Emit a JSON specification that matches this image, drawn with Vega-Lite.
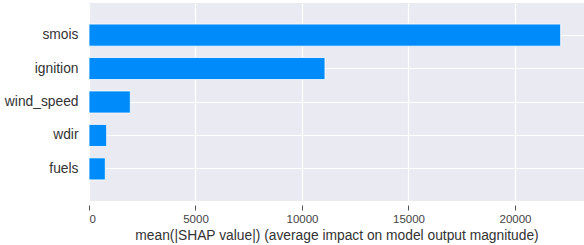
{
  "$schema": "https://vega.github.io/schema/vega-lite/v6.json",
  "width": 495,
  "height": 198,
  "autosize": {"type": "none"},
  "padding": {"left": 89, "top": 3, "right": 0, "bottom": 44},
  "background": "white",
  "config": {
    "view": {"fill": "#EAEAF2", "stroke": null},
    "font": "Liberation Sans"
  },
  "data": {
    "values": [
      {"feature": "smois", "value": 22145},
      {"feature": "ignition", "value": 11080},
      {"feature": "wind_speed", "value": 1940},
      {"feature": "wdir", "value": 830},
      {"feature": "fuels", "value": 765}
    ]
  },
  "mark": {"type": "bar", "color": "#008BFB", "stroke": "white", "strokeWidth": 0.8},
  "encoding": {
    "y": {
      "field": "feature",
      "type": "nominal",
      "sort": null,
      "scale": {"paddingInner": 0.34, "paddingOuter": 0.63},
      "axis": {
        "title": null,
        "domain": false,
        "ticks": false,
        "grid": true,
        "gridColor": "white",
        "gridWidth": 1.2,
        "bandPosition": 0.5,
        "labelFontSize": 13.8,
        "labelColor": "#333333",
        "labelPadding": 11
      }
    },
    "x": {
      "field": "value",
      "type": "quantitative",
      "scale": {"domain": [0, 23240], "nice": false, "zero": true},
      "axis": {
        "title": "mean(|SHAP value|) (average impact on model output magnitude)",
        "titleFontSize": 13.8,
        "titleFontWeight": "normal",
        "titleColor": "#333333",
        "titlePadding": 4,
        "values": [0, 5000, 10000, 15000, 20000],
        "format": "d",
        "domain": false,
        "grid": true,
        "gridColor": "white",
        "gridWidth": 1.2,
        "ticks": true,
        "tickColor": "#555555",
        "tickSize": 5,
        "tickWidth": 1,
        "offset": 4,
        "labelFontSize": 11.5,
        "labelColor": "#444444",
        "labelPadding": 3
      }
    }
  }
}
